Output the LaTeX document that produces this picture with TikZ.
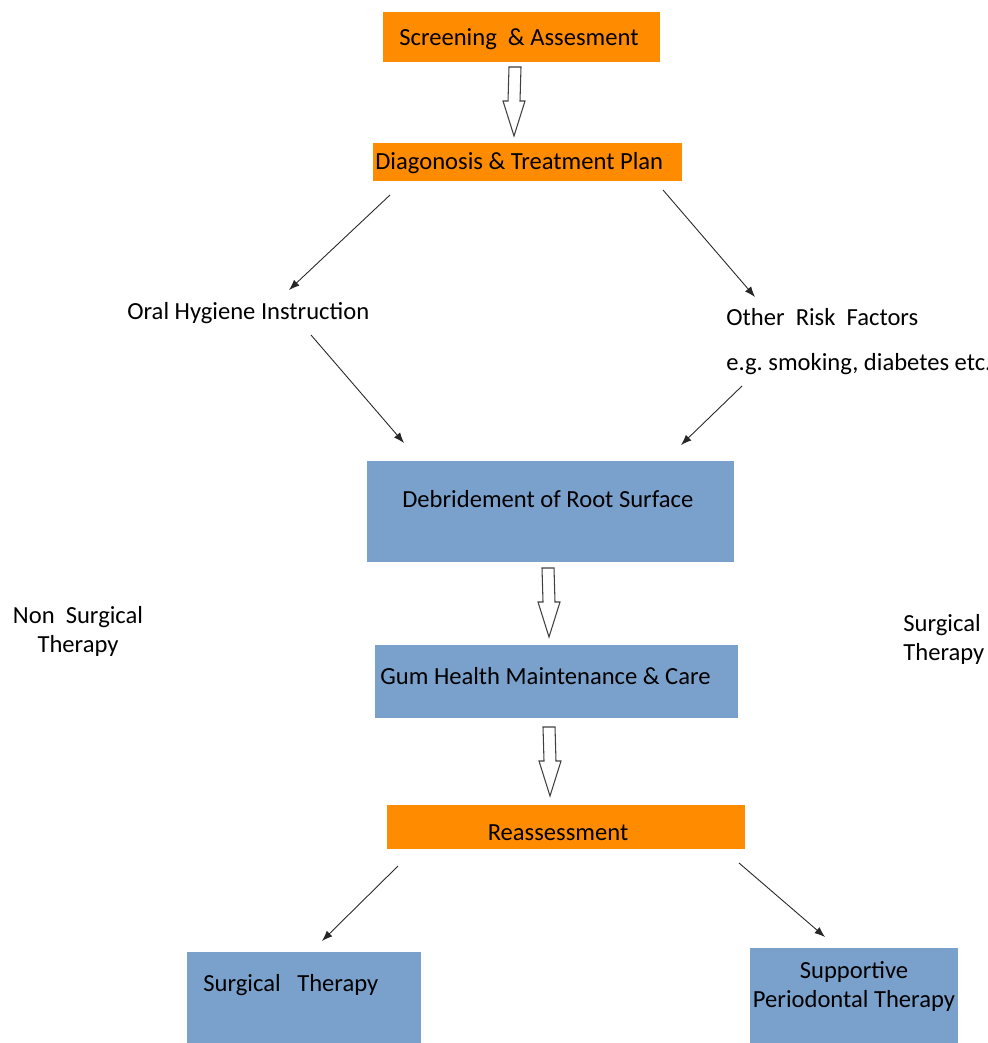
\documentclass[tikz,border=0pt]{standalone}
\usepackage{fontspec}
\setmainfont{Carlito}
\frenchspacing
\usetikzlibrary{calc, arrows.meta}
\definecolor{boxorange}{RGB}{255,139,0}
\definecolor{boxblue}{RGB}{122,161,204}
\tikzset{
  box/.style={anchor=north west, inner sep=0pt, outer sep=0pt},
  orangebox/.style={box, fill=boxorange},
  bluebox/.style={box, fill=boxblue},
  lbl/.style={inner sep=0pt, font=\fontsize{14}{16.5}\selectfont},
  thinarrow/.style={-{Latex[length=6pt, width=4.5pt]}, line width=0.5pt, black!85},
  hollow/.style={draw=black!75, fill=white, line width=0.6pt, line join=miter}
}
% hollow block arrow: top centre, tip
\newcommand{\hollowdown}[2]{%
  \draw[hollow] ($(#1)+(-6,0)$) -- ($(#1)+(6,0)$) -- ($(#2)+(6,-35)$)
    -- ($(#2)+(11,-35)$) -- (#2) -- ($(#2)+(-11,-35)$) -- ($(#2)+(-6,-35)$) -- cycle;}

\begin{document}
\begin{tikzpicture}[x=0.02cm, y=-0.02cm]
  \useasboundingbox (0,0) rectangle (987,1043);

  % boxes
  \node[orangebox, minimum width=277*0.02cm, minimum height=50*0.02cm] (screen) at (383,12) {};
  \node[orangebox, minimum width=309*0.02cm, minimum height=38*0.02cm] (diag) at (373,143) {};
  \node[bluebox, minimum width=367*0.02cm, minimum height=101*0.02cm] (debr) at (367,461) {};
  \node[bluebox, minimum width=363*0.02cm, minimum height=73*0.02cm] (gum) at (375,645) {};
  \node[orangebox, minimum width=358*0.02cm, minimum height=44*0.02cm] (reass) at (387,805) {};
  \node[bluebox, minimum width=234*0.02cm, minimum height=100*0.02cm] (surg) at (187,952) {};
  \node[bluebox, minimum width=208*0.02cm, minimum height=100*0.02cm] (supp) at (750,948) {};

  % texts
  \node[lbl, anchor=west] (screentxt) at (399,39) {Screening\ \ \& Assesment};
  \node[lbl, anchor=west] (diagtxt) at (375,163) {Diagonosis \& Treatment Plan};
  \node[lbl, anchor=west] (ohi) at (127,313) {Oral Hygiene Instruction};
  \node[lbl, anchor=west] (risk) at (726,317) {Other\ \ Risk\ \ Factors};
  \node[lbl, anchor=west] (eg) at (726,364) {e.g. smoking, diabetes etc.};
  \node[lbl, anchor=west] (debrtxt) at (402,499) {Debridement of Root Surface};
  \node[lbl, anchor=west] (gumtxt) at (380,676) {Gum Health Maintenance \& Care};
  \node[lbl] (reasstxt) at (558,833) {Reassessment};
  \node[lbl, anchor=west] (surgtxt) at (203,985) {Surgical\ \ \ Therapy};
  \node[lbl, align=center] (supptxt) at (854,986) {Supportive\\[0pt]Periodontal Therapy};
  \node[lbl, align=center] (nonsurg) at (78,631) {Non\ \ Surgical\\[0pt]Therapy};
  \node[lbl, align=left, anchor=west] (surgside) at (903,639) {Surgical\\[0pt]Therapy};

  % arrow ends
  \coordinate (a1) at (390,195);  \coordinate (b1) at (289,290);
  \coordinate (a2) at (663,190);  \coordinate (b2) at (755,297);
  \coordinate (a3) at (311,335);  \coordinate (b3) at (404,443);
  \coordinate (a4) at (742,386);  \coordinate (b4) at (681,445);
  \coordinate (a5) at (398,866);  \coordinate (b5) at (322,941);
  \coordinate (a6) at (739,863);  \coordinate (b6) at (825,937);
  \draw[thinarrow] (a1) -- (b1);
  \draw[thinarrow] (a2) -- (b2);
  \draw[thinarrow] (a3) -- (b3);
  \draw[thinarrow] (a4) -- (b4);
  \draw[thinarrow] (a5) -- (b5);
  \draw[thinarrow] (a6) -- (b6);

  % block arrows
  \coordinate (h1) at (515,67);  \coordinate (t1) at (514,136);
  \coordinate (h2) at (548,568); \coordinate (t2) at (549,637);
  \coordinate (h3) at (549,727); \coordinate (t3) at (550,796);
  \hollowdown{h1}{t1}
  \hollowdown{h2}{t2}
  \hollowdown{h3}{t3}
\end{tikzpicture}
\end{document}
